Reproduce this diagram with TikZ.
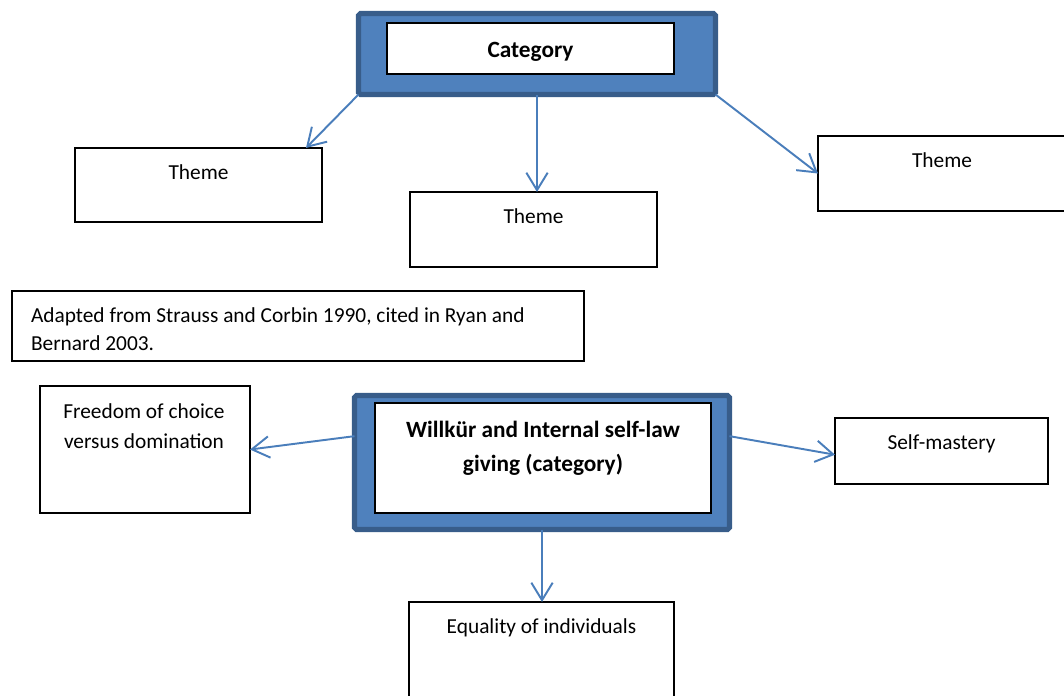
\documentclass[tikz,border=0pt]{standalone}
\usepackage{fontspec}
\setmainfont{Carlito}
\usetikzlibrary{arrows.meta}
\definecolor{catblue}{HTML}{4F81BD}
\definecolor{catline}{HTML}{385D8A}
\definecolor{linkblue}{HTML}{4A7EBB}
\newcommand{\pxu}{0.515pt}

\begin{document}
\begin{tikzpicture}[x=0.515pt,y=-0.515pt,
    every node/.style={inner sep=0pt,outer sep=0pt},
    sized/.style 2 args={minimum width=#1*\pxu,minimum height=#2*\pxu},
    box/.style={draw=black,line width=0.6pt,fill=white},
    catbox/.style={draw=catline,line width=2.6pt,fill=catblue,rounded corners=1pt},
    link/.style={draw=linkblue,line width=1pt,-{Straight Barb[length=9pt,width=11pt]}},
    txt/.style={font=\fontsize{11}{15.4}\selectfont,align=center,anchor=base},
    cattxt/.style={font=\fontsize{12}{17.5}\selectfont\bfseries,align=center,anchor=base}]
    \useasboundingbox (0,0) rectangle (1064,695);
    \node[catbox,sized={357}{81}] (cat) at (537,54) {};
    \node[box,sized={287}{51}] (catin) at (530.5,48.5) {};
    \node[cattxt] (catlbl) at (530.5,57) {Category};
    \node[box,sized={247}{74}] (t1) at (198.5,185) {};
    \node[txt] (t1lbl) at (198.5,179) {Theme};
    \node[box,sized={247}{75}] (t2) at (533.5,229.5) {};
    \node[txt] (t2lbl) at (533.5,223) {Theme};
    \node[box,sized={248}{75}] (t3) at (942,173.5) {};
    \node[txt] (t3lbl) at (942,167) {Theme};
    \node[box,sized={572}{70}] (cite) at (298,326) {};
    \node[txt,align=left,anchor=base west,font=\fontsize{11}{14.4}\selectfont] (citelbl) at (31,350)
        {Adapted from Strauss and Corbin 1990, cited in Ryan and\\Bernard 2003.};
    \node[catbox,sized={375}{134}] (will) at (542,462.5) {};
    \node[box,sized={336}{110}] (willin) at (543,458) {};
    \node[cattxt] (willlbl) at (543,471) {Willkür and Internal self-law\\giving (category)};
    \node[box,sized={210}{127}] (free) at (145,449.5) {};
    \node[txt] (freelbl) at (144,448) {Freedom of choice\\versus domination};
    \node[box,sized={213}{66}] (self) at (941.5,451) {};
    \node[txt] (selflbl) at (941.5,449) {Self-mastery};
    \node[box,sized={265}{110}] (eq) at (541.5,657) {};
    \node[txt] (eqlbl) at (541.5,633) {Equality of individuals};
    \draw[link] (cat.south west) -- (t1.19.7);
    \draw[link] (cat.south) -- (cat.south |- t2.north);
    \draw[link] (cat.south east) -- (t3.west);
    \draw[link] (will.172) -- (free.east);
    \draw[link] (will.8) -- (self.182);
    \draw[link] (will.south) -- (will.south |- eq.north);
\end{tikzpicture}
\end{document}
